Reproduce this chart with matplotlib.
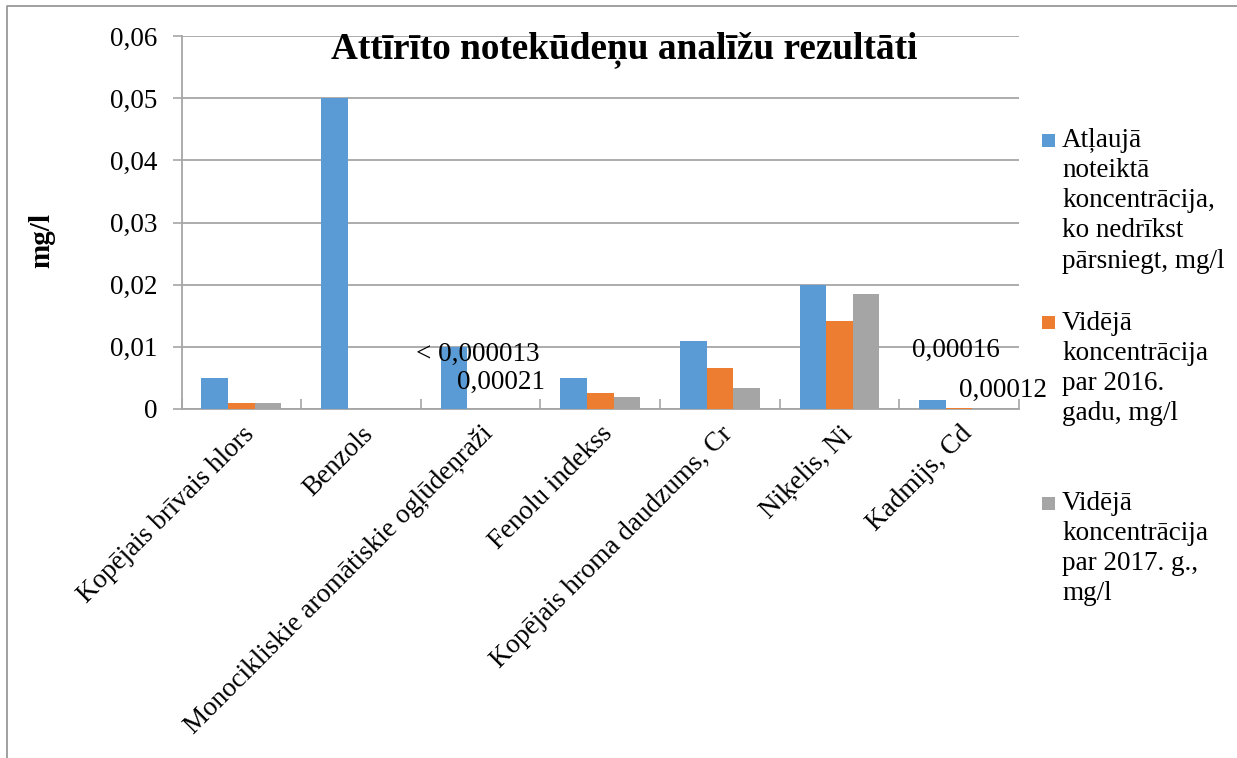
import matplotlib
matplotlib.use("Agg")
import matplotlib.pyplot as plt
import numpy as np
from matplotlib.patches import Rectangle
from matplotlib.lines import Line2D
from matplotlib.ticker import FuncFormatter, MultipleLocator

plt.rcParams['font.family'] = ['Liberation Serif', 'DejaVu Serif']

categories = [
    "Kopējais brīvais hlors",
    "Benzols",
    "Monocikliskie aromātiskie ogļūdeņraži",
    "Fenolu indekss",
    "Kopējais hroma daudzums, Cr",
    "Niķelis, Ni",
    "Kadmijs, Cd",
]
series_names = [
    "Atļaujā\nnoteiktā\nkoncentrācija,\nko nedrīkst\npārsniegt, mg/l",
    "Vidējā\nkoncentrācija\npar 2016.\ngadu, mg/l",
    "Vidējā\nkoncentrācija\npar 2017. g.,\nmg/l",
]
permitted = [0.005, 0.05, 0.01, 0.005, 0.011, 0.02, 0.0014]
avg_2016 = [0.0009, 0.0, 0.000013, 0.00265, 0.0066, 0.0142, 0.00016]
avg_2017 = [0.0009, 0.0, 0.00021, 0.00195, 0.0033, 0.0185, 0.00012]
colors = ["#5B9BD5", "#ED7D31", "#A5A5A5"]

# manually positioned data labels: (category index, x offset, y position, text)
data_labels = [
    (2, -0.02, 0.0088, "< 0,000013"),
    (2, 0.17, 0.0043, "0,00021"),
    (6, -0.03, 0.0094, "0,00016"),
    (6, 0.37, 0.0030, "0,00012"),
]

title = "Attīrīto notekūdeņu analīžu rezultāti"
y_label = "mg/l"

W, H = 1237, 758
fig = plt.figure(figsize=(W / 100, H / 100), dpi=100)
ax = fig.add_axes([181.5 / W, 1 - 409 / H, (1019 - 181.5) / W, (409 - 36) / H])

x = np.arange(len(categories))
bw = 0.222
for i, (vals, c) in enumerate(zip([permitted, avg_2016, avg_2017], colors)):
    ax.bar(x + (i - 1) * bw, vals, width=bw, color=c, edgecolor='none', zorder=3)

ax.set_xlim(-0.5, len(categories) - 0.5)
ax.set_ylim(0, 0.06)
ax.yaxis.set_major_locator(MultipleLocator(0.01))
ax.yaxis.set_major_formatter(FuncFormatter(lambda v, p: "0" if abs(v) < 1e-12 else f"{v:.2f}".replace('.', ',')))
ax.grid(axis='y', color='#a6a6a6', linewidth=1.3, zorder=0)
for s in ['top', 'right']:
    ax.spines[s].set_visible(False)
for s in ['left', 'bottom']:
    ax.spines[s].set_color('#a6a6a6')
    ax.spines[s].set_linewidth(1.3)

ax.tick_params(axis='y', direction='out', length=6.5, width=1.2, color='#a6a6a6',
               pad=11, labelsize=19.5)
ax.set_xticks(x)
ax.set_xticklabels([])
ax.tick_params(axis='x', which='major', length=0)
ax.set_xticks(np.arange(-0.5, len(categories)), minor=True)
ax.tick_params(axis='x', which='minor', direction='in', length=7, width=1.2, color='#a6a6a6')

for xi, lab in zip(x, categories):
    ax.annotate(lab, xy=(xi, 0), xycoords=('data', 'data'), xytext=(0, -9),
                textcoords='offset points', rotation=45, rotation_mode='anchor',
                ha='right', va='top', fontsize=19.5)

for ci, dx, yv, txt in data_labels:
    ax.text(ci + dx, yv, txt, ha='center', va='center', fontsize=19.5, zorder=5)

fig.text(624 / W, 1 - 50 / H, title, ha='center', va='center', fontsize=26.8, fontweight='bold')
fig.text(42 / W, 1 - 241 / H, y_label, rotation=90, ha='center', va='center', fontsize=21, fontweight='bold')

# legend drawn manually
leg_first_line = [140, 323, 503]
for name, c, yl in zip(series_names, colors, leg_first_line):
    fig.patches.append(Rectangle((1042 / W, 1 - (yl + 6.5) / H), 13 / W, 13 / H,
                                 transform=fig.transFigure, facecolor=c, edgecolor='none'))
    fig.text(1062 / W, 1 - (yl - 12) / H, name, ha='left', va='top', fontsize=19.5,
             linespacing=1.27)

# outer chart border (only top and left visible)
fig.add_artist(Line2D([7 / W, 7 / W, 1.01], [-0.01, 1 - 6 / H, 1 - 6 / H],
                      transform=fig.transFigure, color='#999999', linewidth=1.3))

fig.savefig("out.png", dpi=100)
